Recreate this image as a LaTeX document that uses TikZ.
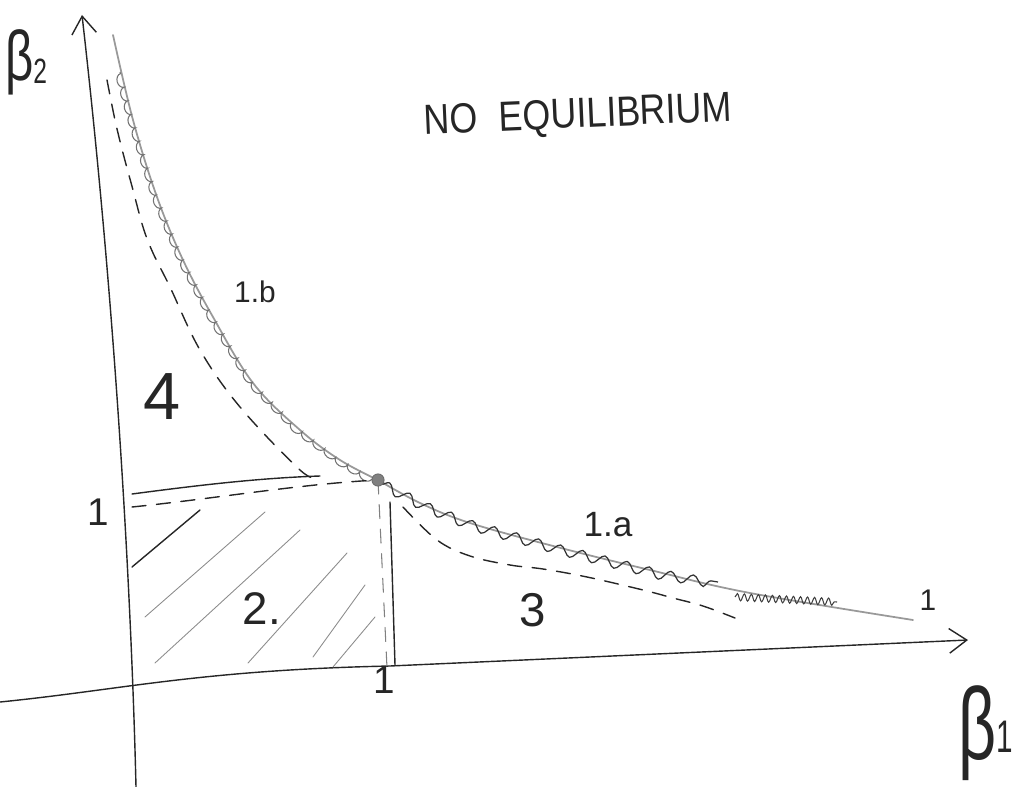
\documentclass[tikz,border=0pt]{standalone}
\usepackage{fontspec}
\setmainfont{Liberation Sans}
\usetikzlibrary{decorations.pathmorphing,arrows.meta}
\begin{document}
\begin{tikzpicture}[x=0.02cm,y=-0.02cm,
  pencil/.style={draw=black!85,line width=0.8pt,line cap=round},
  hatch/.style={draw=black!45,line width=0.5pt,line cap=round},
  dashpen/.style={draw=black!85,line width=0.8pt,dash pattern=on 8pt off 6pt,line cap=round},
  graycurve/.style={draw=black!40,line width=1pt,line cap=round},
  scallop/.style={draw=black!55,line width=0.6pt,decorate,decoration={bumps,amplitude=3pt,segment length=16pt}},
  wavy/.style={draw=black!80,line width=0.7pt,decorate,decoration={snake,amplitude=2.8pt,segment length=13pt}},
  fine wavy/.style={draw=black!75,line width=0.6pt,decorate,decoration={snake,amplitude=2pt,segment length=4pt}},
  lbl/.style={inner sep=0pt,text=black!85},
  arrowtip/.style={-{Straight Barb[length=10pt,width=14pt,line width=0.8pt]}}
]
\useasboundingbox (0,0) rectangle (1017,787);
% axes
\coordinate (yb) at (136,787);
\coordinate (yt) at (82,15);
\coordinate (xl) at (0,702);
\coordinate (xm) at (390,666);
\coordinate (xr) at (968,640);
\draw[pencil,arrowtip] (yb) .. controls (132,620) and (118,330) .. (yt);
\draw[pencil,arrowtip] (xl) .. controls (120,690) and (200,670) .. (xm) -- (xr);
% boundary curve 1.b / 1.a (gray, smooth)
\coordinate (eq) at (378,480);
\draw[graycurve] plot[smooth,tension=0.6] coordinates {(113,35) (133,120) (157,197) (183,260) (213,317) (253,383) (300,430) (340,460) (378,480)};
\draw[graycurve] plot[smooth,tension=0.6] coordinates {(378,480) (420,503) (470,523) (557,547) (650,570) (750,593) (913,620)};
% wavy overlays
\draw[scallop] (372,479) -- (340,460) -- (300,430) -- (253,383) -- (213,317) -- (183,260) -- (157,197) -- (133,120) -- (120,72);
\draw[wavy] (381,484) -- (420,504) -- (470,524) -- (557,548) -- (650,571) -- (718,582);
\draw[fine wavy] (735,597) -- (837,602);
% dashed curves
\draw[dashpen] plot[smooth,tension=0.6] coordinates {(107,80) (115,120) (123,153) (133,190) (143,227) (153,253) (170,287) (200,350) (240,407) (300,470) (318,478)};
\draw[dashpen] plot[smooth,tension=0.6] coordinates {(403,507) (437,540) (470,556) (510,565) (543,569) (587,577) (643,590) (673,598) (703,606) (735,618)};
% region boundaries
\coordinate (h1) at (132,494);
\coordinate (h2) at (320,476);
\draw[pencil] (h1) .. controls (200,485) and (260,478) .. (h2);
\coordinate (hd1) at (132,507);
\draw[dashpen] (hd1) .. controls (220,498) and (300,484) .. (eq);
\coordinate (v1) at (390,502);
\coordinate (v2) at (395,665);
\draw[pencil] (v1) -- (v2);
\coordinate (vd) at (387,668);
\draw[dashpen,draw=black!50,line width=0.6pt] (eq) -- (vd);
% hatching of region 2
\draw[pencil] (132,567) -- (200,510);
\draw[hatch] (145,617) -- (265,512);
\draw[hatch] (155,663) -- (300,530);
\draw[hatch] (248,663) -- (347,553);
\draw[hatch] (313,657) -- (365,585);
\draw[hatch] (333,667) -- (375,617);
% equilibrium point
\node[circle,fill=black!50,draw=black!60,minimum size=7pt,inner sep=0pt] (dot) at (eq) {};
% labels
\node[lbl,rotate=2.5] (noeq) at (578,117) {\scalebox{0.85}[1]{\fontsize{24}{28}\selectfont NO\hspace{0.6em}EQUILIBRIUM}};
\node[lbl] (b2) at (26,62) {\scalebox{0.7}[1]{\fontsize{40}{44}\selectfont β\raisebox{-2pt}{\fontsize{20}{24}\selectfont 2}}};
\node[lbl] (b1) at (986,733) {\scalebox{0.65}[1]{\fontsize{58}{62}\selectfont β\raisebox{4pt}{\fontsize{26}{30}\selectfont 1}}};
\node[lbl,font=\fontsize{22}{26}\selectfont] (one1) at (98,512) {1};
\node[lbl,font=\fontsize{22}{26}\selectfont] (one2) at (384,680) {1};
\node[lbl,font=\fontsize{17}{20}\selectfont] (one3) at (928,600) {1};
\node[lbl,font=\fontsize{38}{42}\selectfont] (r4) at (162,397) {4};
\node[lbl,font=\fontsize{26}{30}\selectfont] (r2) at (262,609) {2.};
\node[lbl,font=\fontsize{27}{30}\selectfont] (r3) at (533,610) {3};
\node[lbl,font=\fontsize{17}{20}\selectfont] (l1b) at (255,292) {1.b};
\node[lbl,font=\fontsize{20}{24}\selectfont] (l1a) at (608,525) {1.a};
\end{tikzpicture}
\end{document}
